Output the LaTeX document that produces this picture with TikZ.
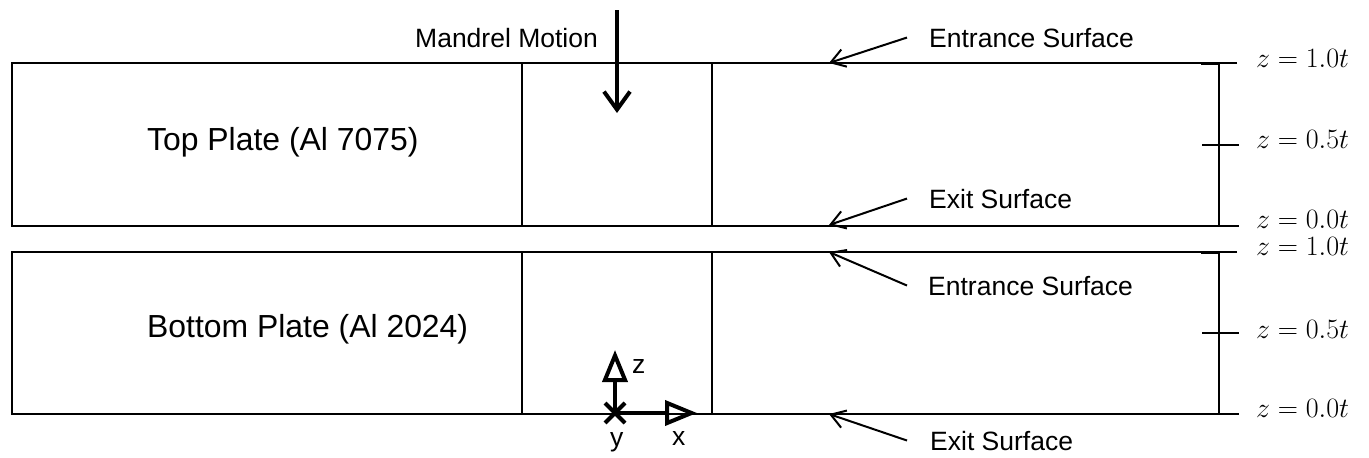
\documentclass[tikz,border=0pt]{standalone}
\usepackage{fix-cm}
\usepackage{fontspec}
\setmainfont{Liberation Sans}
\usepackage{tikz}
\usetikzlibrary{arrows.meta}

\tikzset{
  plateline/.style={line width=2pt},
  tagtext/.style={font=\fontsize{26.5}{30}\selectfont, inner sep=0pt, anchor=base west},
  platetext/.style={font=\fontsize{31.9}{38}\selectfont, inner sep=0pt, anchor=base west},
  ztext/.style={font=\fontsize{28}{30}\selectfont, inner sep=0pt, anchor=base west},
  surfarrow/.style={line width=2pt, -{Straight Barb[length=14pt,width=18pt]}},
  axisarrow/.style={line width=4pt, -{Triangle[open,length=32pt,width=25pt]}}
}

\begin{document}
\begin{tikzpicture}[x=1pt,y=1pt]
\useasboundingbox (0,0) rectangle (1369,-458);

% Plates with the mandrel strip and the thickness bar
\foreach \ytop/\ybot in {63/226, 252/414}{
  \draw[plateline] (1237,-\ytop) -- (12,-\ytop) -- (12,-\ybot) -- (1239,-\ybot);
  \draw[plateline] (521.5,-\ytop) -- (521.5,-\ybot);
  \draw[plateline] (712,-\ytop) -- (712,-\ybot);
  \draw[plateline] (1219,-\ytop) -- (1219,-\ybot);
  \draw[line width=3pt] (1201,-\ytop) -- (1220,-\ytop);
  \draw[plateline] (1202,{-(\ytop+\ybot)/2}) -- (1239,{-(\ytop+\ybot)/2});
}

% Plate names
\node[platetext] (topplate) at (147,-150) {Top Plate (Al 7075)};
\node[platetext] (botplate) at (147,-337) {Bottom Plate (Al 2024)};

% Mandrel
\node[tagtext] (mandrel) at (415,-47) {Mandrel Motion};
\coordinate (mandrelTail) at (617,-10);
\coordinate (mandrelHead) at (617,-113);
\draw[line width=4pt, -{Straight Barb[length=18pt,width=26pt]}] (mandrelTail) -- (mandrelHead);

% Surfaces
\node[tagtext] (entTop) at (929,-47) {Entrance Surface};
\node[tagtext] (exitTop) at (929,-208) {Exit Surface};
\node[tagtext] (entBot) at (928,-295) {Entrance Surface};
\node[tagtext] (exitBot) at (930,-450) {Exit Surface};

\coordinate (entTopTip) at (829,-63);
\coordinate (exitTopTip) at (829,-225);
\coordinate (entBotTip) at (829,-252);
\coordinate (exitBotTip) at (829,-414);

\draw[surfarrow] ([xshift=-22pt]entTop.west) -- (entTopTip);
\draw[surfarrow] ([xshift=-22pt]exitTop.west) -- (exitTopTip);
\draw[surfarrow] ([xshift=-21pt]entBot.west) -- (entBotTip);
\draw[surfarrow] ([xshift=-23pt]exitBot.west) -- (exitBotTip);

% Through-thickness positions
\foreach \y/\v [count=\i] in {67/1.0, 148/0.5, 228/0.0, 255/1.0, 338/0.5, 417/0.0}
  \node[ztext] (z\i) at (1256,-\y) {$z=\v t$};

% Axes
\coordinate (origin) at (615,-413);
\coordinate (zend) at (615,-350);
\coordinate (xend) at (697,-413);
\draw[axisarrow] (origin) -- (zend);
\draw[axisarrow] (origin) -- (xend);
\draw[line width=4pt] (605,-403) -- (625,-423) (605,-423) -- (625,-403);
\node[tagtext] (zlab) at (632,-373) {z};
\node[tagtext] (xlab) at (672,-445) {x};
\node[tagtext] (ylab) at (610,-446) {y};

\end{tikzpicture}
\end{document}
